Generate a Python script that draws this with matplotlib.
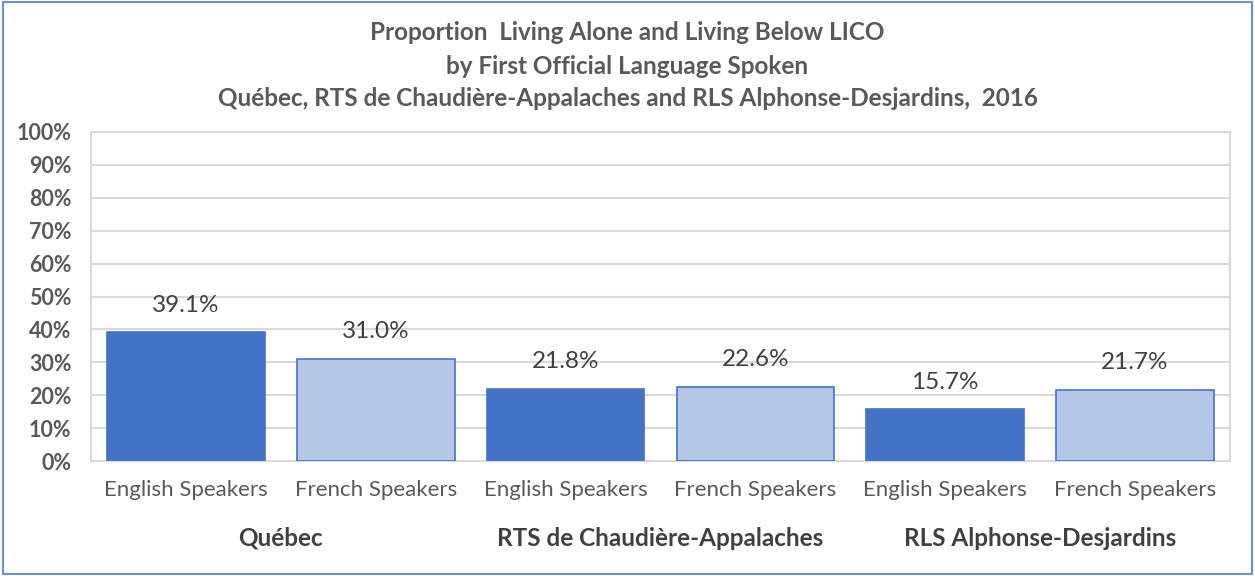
import matplotlib
matplotlib.use("Agg")
import matplotlib.pyplot as plt
from matplotlib.patches import Rectangle

plt.rcParams['font.family'] = ['Lato', 'DejaVu Sans']

regions = ["Québec", "RTS de Chaudière-Appalaches", "RLS Alphonse-Desjardins"]
speakers = ["English Speakers", "French Speakers"]
values = [39.1, 31.0, 21.8, 22.6, 15.7, 21.7]
y_ticks = [0, 10, 20, 30, 40, 50, 60, 70, 80, 90, 100]

dark = "#4472C4"
light = "#B4C7E7"
grey = "#595959"

fig = plt.figure(figsize=(12.55, 5.76), dpi=100)
ax = fig.add_axes([91 / 1255, 1 - 461 / 576, (1230 - 91) / 1255, (461 - 132) / 576])

x = list(range(len(values)))
colors = [dark if i % 2 == 0 else light for i in x]
ax.bar(x, values, width=0.83, color=colors, edgecolor=dark, linewidth=1.2, zorder=3)

for xi, v in zip(x, values):
    ax.text(xi, v + 8.3, "{:.1f}%".format(v), ha="center", va="center",
            fontsize=17.5, color="#404040")

ax.set_xlim(-0.5, len(values) - 0.5)
ax.set_ylim(0, 100)
ax.set_yticks(y_ticks)
ax.set_yticklabels(["{}%".format(t) for t in y_ticks], fontsize=15.5, fontweight="bold", color=grey)
ax.set_xticks(x)
ax.set_xticklabels([speakers[i % 2] for i in x], fontsize=16, color=grey)
ax.tick_params(axis="y", length=0, pad=14)
ax.tick_params(axis="x", length=0, pad=14)
ax.grid(axis="y", color="#D9D9D9", linewidth=1.5, zorder=0)
for s in ax.spines.values():
    s.set_color("#D9D9D9")
    s.set_linewidth(1.5)

for i, r in enumerate(regions):
    ax.text(2 * i + 0.5, -23.5, r, ha="center", va="center", fontsize=17.5,
            fontweight="bold", color="#404040", transform=ax.transData)

title_lines = ["Proportion  Living Alone and Living Below LICO",
               "by First Official Language Spoken",
               "Québec, RTS de Chaudière-Appalaches and RLS Alphonse-Desjardins,  2016"]
for k, line in enumerate(title_lines):
    fig.text(0.5, 1 - (33 + 33 * k) / 576, line, ha="center", va="center",
             fontsize=17.5, fontweight="bold", color=grey)

fig.patches.append(Rectangle((0.002, 0.003), 0.996, 0.994, transform=fig.transFigure,
                             fill=False, edgecolor="#6F8FCF", linewidth=1.5))

plt.savefig("out.png", dpi=100)
plt.close()
